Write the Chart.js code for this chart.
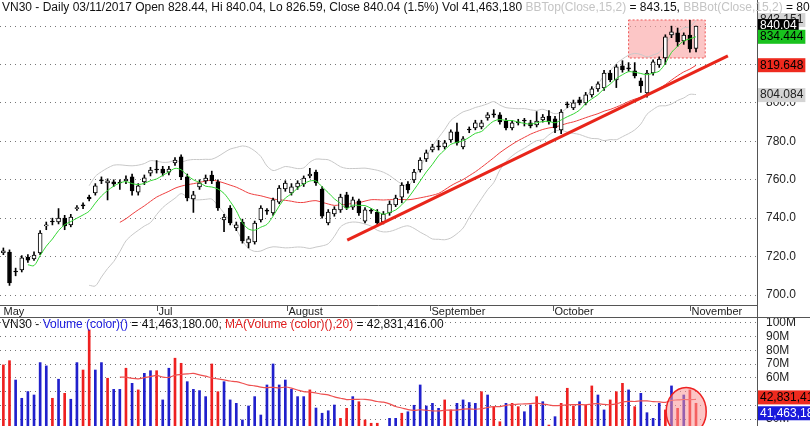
<!DOCTYPE html>
<html><head><meta charset="utf-8">
<script src="https://cdn.jsdelivr.net/npm/chart.js@4.4.0/dist/chart.umd.min.js"></script>
<style>
html,body{margin:0;padding:0;background:#fff;overflow:hidden}
#w{position:relative;width:810px;height:426px}
#c1{position:absolute;left:0;top:0}
#c2{position:absolute;left:0;top:318px}
</style></head><body><div id="w">
<canvas id="c1" width="810" height="318"></canvas>
<canvas id="c2" width="810" height="108"></canvas>
</div>
<script>
const opens=[722,722.4,712.5,713,719.8,718.8,721.9,736,738.5,738,740.1,736.5,745,746.6,751,753.1,759.6,758.3,758.9,758.5,759.4,761.5,753.6,758.9,763.5,765.3,765.6,764,768.8,771.9,761.5,750,756.3,759.4,762.5,758.9,739.1,745.3,734.9,738,727.1,727.6,739.1,743.9,742.7,748.4,755.2,753.1,756.3,757.8,762,764,755.2,737.5,742.2,744.3,752.1,745.8,749,738.5,743.9,743.2,738,742.7,746.9,751,757.8,759.9,765.1,770.8,775.5,777.3,777.1,780.7,784.9,777.1,786.1,787,787.5,792.2,794,793.8,790.6,787,789.8,790.8,789.6,788.5,791.1,793.2,791.7,785.9,799.2,797.4,801.6,800,804.2,807.3,807.8,815.6,812,819.3,817.9,816.7,811.5,805.2,815.6,819.8,823.4,835.4,836.5,832.3,835.4,828.44];
const closes=[723,706.3,712,719.3,718.2,720.8,732.3,736.5,738,740.1,736,740.6,745.3,746.4,750,756.8,759.4,759.4,757.8,758.3,760.4,754.2,756.8,761,765.1,765.1,763.5,765.6,770.3,761.5,750.5,752.1,758.3,760.9,759.4,745.3,740.6,737.5,736.5,728.1,729.2,737.5,745.3,743.7,749.5,755.7,758.3,756.3,758.3,760.9,763,758.3,741.1,743.2,744.8,751,745.3,749.5,742.7,744.3,743.7,737.5,742.2,747.4,750.5,757.3,754.7,764,770.3,774,777.1,777.1,779.2,784.9,779.2,781.3,785.9,789.6,789.6,793.8,793.8,790.1,787,789.6,789.6,790.6,788,790.6,792.7,790.1,787,795.3,799,800,800,804.2,807.3,809.9,815.6,812,818.8,817.2,817.7,814.1,808.9,815.6,821.4,822.9,834.4,837,831.8,835.4,828.1,840.04];
const highs=[724.5,723.5,714,720.5,721,722.5,733.5,738,740,745,741.5,742,746.5,748,752,758,761.5,760.5,760,760,762,763,758,762.5,766.5,770,767,767,771.5,773,763,754,760,762.5,764.5,760,742,746.5,738,739.5,730.5,738.5,746.5,745,750.5,757,759.5,758,759.5,762,766,765,756.5,744.5,746,752.5,753.5,751,750,745.5,745,744.5,743.5,749,752,758.5,759,765.5,771.5,775.5,778.5,780.5,780.5,786,789.5,782.5,787.5,791,791,795,796.5,795,792,791,791.5,792,791,795.5,794,796,793,796.5,800.5,801.5,803,805.5,808.5,811,817,817,820,822,821,821,813,817,822.5,824,835.5,840,839,836.5,843,840.04];
const lows=[721,705,710,712,717,718,721,734,736.5,737,734,735.5,744,745,749,752,758,749.5,756.5,755,758,752,752,757.5,762,763.5,762,762.5,767.5,760,749,743,755,758,758,744,733,736.5,733.5,727,724.5,726.5,738,742,741.5,747.5,754,752,755,756.5,761,757,740,736.5,741,743,744.5,744.5,741.5,737.5,742.5,736,737,741.5,746,748,753,758.5,764,769.5,774.5,775.5,776,779.5,778,776,784.5,786,786.5,791,792.5,789,786,786,788.5,788,787,787.5,790,789,784.5,784,797.5,796.5,799,799,803,806,806.5,811,808,816,816.5,813,805.5,803,814.5,818.5,820,834,829.5,830.5,826.5,826.59];
const volumes=[69.4,72.5,58.4,45.1,50,47.5,71.1,68.7,45.1,59,48.7,44.4,71.1,65.7,94.9,65.7,71.1,59.7,51.6,51.6,67,56,51.2,63.3,65.2,65.2,43.9,67,74.3,70.6,57.2,51.6,50.7,46.3,70.1,49.9,57.2,43.9,41.4,29.3,39.5,46.3,32.9,54.8,70.1,54.8,58.4,51.6,46.3,46.3,51.2,38,34.2,36,40.2,30.5,37.8,46.3,42.6,29.3,26.9,26.9,23.2,30.5,30.5,34.2,35.3,40,54.8,39.5,41.4,37.8,43.9,36.6,41.4,43.9,42,41.4,49.9,47.5,38.5,28,41.4,41.4,39,35.3,40.2,46.3,42.6,25.6,31.7,41.4,52.4,39.5,42.6,40.2,54.1,47.5,36.6,43.9,49.9,56,51.2,39,48.7,34.6,30.5,41.4,36.6,54.1,37.8,47.5,51.2,41.46];
const volColors="rrbbbbbbrbrbbrrbbrbbrbrbbrbbrrbbbbrrbbbbbbbbbbbbbbrbbbbrrbrrrrbbbrbbbbbbrrbbbbrbrrbrrbbrbrbrrrbrrbbrrrbrbbbbrbrb".split('');
const monthLabels=["May","Jul","August","September","October","November"];
const monthPos=[-0.25,25.1,46.3,69.6,89.7,112];
const priceTicks=[700,720,740,760,780,800,820,840];
const priceTickLabels=["700.0","720.0","740.0","760.0","780.0","800.0","820.0","840.0"];
const volTicks=[30,40,50,60,70,80,90,100];
const volTickLabels=["30M","","","60M","70M","80M","90M","100M"];
const trendLine=[{x:56.1,y:728.6},{x:118.2,y:824.5}];
const zoneBox={x0:102,x1:114.5,y0:823.4,y1:843.2};
const priceBoxes=[{v:843.151,t:"843.151",bg:"#d4d4d4",fg:"#222"},{v:840.04,t:"840.04",bg:"#000",fg:"#fff"},{v:834.444,t:"834.444",bg:"#19c21e",fg:"#000"},{v:819.648,t:"819.648",bg:"#ee2a1e",fg:"#000"},{v:804.084,t:"804.084",bg:"#d4d4d4",fg:"#222"}];
const volBoxes=[{v:42.83,t:"42,831,41",bg:"#ee2a1e",fg:"#000",dy:-4},{v:41.46,t:"41,463,18",bg:"#1a1adc",fg:"#fff",dy:10}];

const N=closes.length;
function sma(a,n,i){let s=0;for(let k=i-n+1;k<=i;k++)s+=a[k];return s/n;}
const ma5=[],ma20=[],bbU=[],bbL=[],vma=[];
for(let i=0;i<N;i++){
 if(i>=4)ma5.push({x:i,y:sma(closes,5,i)});
 if(i>=19){ma20.push({x:i,y:sma(closes,20,i)});vma.push({x:i,y:sma(volumes,20,i)});}
 if(i>=14){const m=sma(closes,15,i);let s=0;for(let k=i-14;k<=i;k++)s+=(closes[k]-m)**2;const sd=Math.sqrt(s/15);bbU.push({x:i,y:m+2*sd});bbL.push({x:i,y:m-2*sd});}
}
const FONT='"Liberation Sans Narrow","Arial Narrow","Liberation Sans",Arial,sans-serif';
const xScale={type:'linear',min:-0.55,max:122.95,display:false,offset:false};
function rightAxis(min,max,ticks){return {position:'right',min:min,max:max,
 afterBuildTicks:s=>{s.ticks=ticks.map(v=>({value:v}));},
 afterFit:s=>{s.width=53;},
 ticks:{display:false},
 grid:{color:'#777',drawTicks:false,lineWidth:1},border:{display:false,dash:[1,4]}};}
function drawLabels(ctx,a,y,ticks,labels){ctx.font='12px '+FONT;ctx.fillStyle='#222';ctx.textAlign='left';ctx.textBaseline='middle';ticks.forEach((t,i)=>ctx.fillText(labels[i],a.right+9,y.getPixelForValue(t)));}

const candleData=opens.map((o,i)=>({x:i,y:[o,closes[i]]}));
const wickData=highs.map((h,i)=>({x:i,y:[lows[i],h]}));
function box(ctx,x,y,t,bg,fg){ctx.font='12px '+FONT;const w=ctx.measureText(t).width+4;ctx.fillStyle=bg;ctx.fillRect(x,y-7,w,14);ctx.fillStyle=fg;ctx.textBaseline='middle';ctx.textAlign='left';ctx.fillText(t,x+2,y);}
function header(ctx,parts,y){let x=2;ctx.font='12px '+FONT;ctx.textBaseline='middle';ctx.textAlign='left';for(const[p,c]of parts){ctx.fillStyle=c;ctx.fillText(p,x,y);x+=ctx.measureText(p).width;}}

const pricePlugin={id:'pp',
 beforeDatasetsDraw(ch){const {ctx,scales:{x,y}}=ch;ctx.save();
  const x0=x.getPixelForValue(zoneBox.x0),x1=x.getPixelForValue(zoneBox.x1),y0=y.getPixelForValue(zoneBox.y1),y1=y.getPixelForValue(zoneBox.y0);
  ctx.fillStyle='rgba(250,160,160,0.6)';ctx.fillRect(x0,y0,x1-x0,y1-y0);ctx.strokeStyle='#e55';ctx.setLineDash([2,2]);ctx.strokeRect(x0,y0,x1-x0,y1-y0);ctx.restore();},
 afterDraw(ch){const {ctx,chartArea:a,scales:{x,y}}=ch;ctx.save();
  ctx.strokeStyle='#555';ctx.lineWidth=1;ctx.beginPath();ctx.moveTo(a.right+0.5,0);ctx.lineTo(a.right+0.5,318);ctx.moveTo(0,a.bottom+0.5);ctx.lineTo(a.right,a.bottom+0.5);ctx.moveTo(0,317.5);ctx.lineTo(810,317.5);ctx.stroke();
  drawLabels(ctx,a,y,priceTicks,priceTickLabels);
  ctx.font='11px '+FONT;ctx.fillStyle='#222';ctx.textBaseline='middle';ctx.textAlign='left';
  monthPos.forEach((m,i)=>{const px=Math.round(x.getPixelForValue(m))+0.5;if(i>0){ctx.beginPath();ctx.moveTo(px,a.bottom);ctx.lineTo(px,a.bottom+6);ctx.stroke();}ctx.fillText(monthLabels[i],px+1,a.bottom+7);});
  priceBoxes.forEach(b=>box(ctx,a.right+1,y.getPixelForValue(b.v),b.t,b.bg,b.fg));
  ctx.fillStyle='#fff';ctx.fillRect(0,0,a.right,15);
  header(ctx,[["VN30 - Daily 03/11/2017 Open 828.44, Hi 840.04, Lo 826.59, Close 840.04 (1.5%) Vol 41,463,180 ","#111"],["BBTop(Close,15,2)","#c4c4c4"],[" = 843.15, ","#111"],["BBBot(Close,15,2)","#c4c4c4"],[" = 804.08, ","#111"],["MA1(Close,20)","#e02020"],[" = 819.65, ","#111"],["MA2(Close,5","#22cc22"]],8);
  ctx.restore();}};

new Chart(document.getElementById('c1'),{data:{datasets:[
 {type:'line',data:bbU,borderColor:'#c8c8c8',borderWidth:1,pointRadius:0,tension:0.3,order:5},
 {type:'line',data:bbL,borderColor:'#c8c8c8',borderWidth:1,pointRadius:0,tension:0.3,order:5},
 {type:'line',data:ma20,borderColor:'#ee4040',borderWidth:1,pointRadius:0,tension:0.3,order:4},
 {type:'bar',data:wickData,grouped:false,barThickness:1,backgroundColor:'#000',order:3},
 {type:'bar',data:candleData,grouped:false,barThickness:4,minBarLength:1,borderSkipped:false,borderWidth:1,borderColor:'#000',backgroundColor:opens.map((o,i)=>closes[i]>o?'#fff':'#000'),order:2},
 {type:'line',data:ma5,borderColor:'#33d633',borderWidth:1,pointRadius:0,tension:0.3,order:1},
 {type:'line',data:trendLine,borderColor:'#e8251a',borderWidth:3,pointRadius:0,order:0}
]},options:{responsive:false,animation:false,events:[],layout:{padding:{top:0,bottom:13}},
 plugins:{legend:{display:false},tooltip:{enabled:false}},
 scales:{x:xScale,y:rightAxis(694.8,853.6,priceTicks)}},plugins:[pricePlugin]});

const volPlugin={id:'vp',afterDraw(ch){const {ctx,chartArea:a,scales:{x,y}}=ch;ctx.save();
  ctx.strokeStyle='#555';ctx.beginPath();ctx.moveTo(a.right+0.5,0);ctx.lineTo(a.right+0.5,108);ctx.stroke();
  drawLabels(ctx,a,y,volTicks,volTickLabels);
  const cx=x.getPixelForValue(111.4),cy=y.getPixelForValue(35.5);
  ctx.beginPath();ctx.ellipse(cx,cy,20,24,0,0,Math.PI*2);ctx.fillStyle='rgba(250,150,150,0.55)';ctx.fill();ctx.strokeStyle='#e22';ctx.lineWidth=1.5;ctx.stroke();
  volBoxes.forEach(b=>box(ctx,a.right+1,y.getPixelForValue(b.v)+b.dy,b.t,b.bg,b.fg));
  header(ctx,[["VN30 - ","#111"],["Volume (color)()","#2020e0"],[" = 41,463,180.00, ","#111"],["MA(Volume (color)(),20)","#e02020"],[" = 42,831,416.00","#111"]],7);
  ctx.restore();}};
new Chart(document.getElementById('c2'),{data:{datasets:[
 {type:'line',data:vma,borderColor:'#ee5050',borderWidth:1.2,pointRadius:0,tension:0.3,order:0},
 {type:'bar',data:volumes.map((v,i)=>({x:i,y:[24,v]})),grouped:false,barThickness:2,backgroundColor:volColors.map(c=>c==='r'?'#ee2020':'#2020cc'),order:1}
]},options:{responsive:false,animation:false,events:[],layout:{padding:0},
 plugins:{legend:{display:false},tooltip:{enabled:false}},
 scales:{x:xScale,y:rightAxis(24.9,103.6,volTicks)}},plugins:[volPlugin]});
</script></body></html>
